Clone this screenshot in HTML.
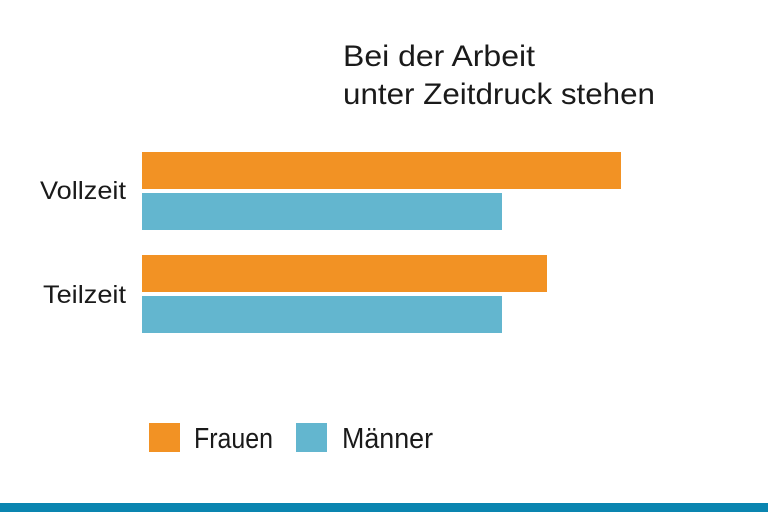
<!DOCTYPE html>
<html><head><meta charset="utf-8"><style>html,body{margin:0;padding:0;background:#fff;width:768px;height:512px;overflow:hidden}</style></head>
<body>
<svg width="768" height="512" viewBox="0 0 768 512" xmlns="http://www.w3.org/2000/svg" font-family="Liberation Sans, sans-serif" fill="#1a1a1a">
<text x="343" y="66" font-size="30" textLength="192" lengthAdjust="spacingAndGlyphs">Bei der Arbeit</text>
<text x="343" y="104" font-size="30" textLength="312" lengthAdjust="spacingAndGlyphs">unter Zeitdruck stehen</text>
<rect x="142" y="152" width="479" height="37" fill="#f29224"/>
<rect x="142" y="193" width="360" height="37" fill="#63b6cf"/>
<rect x="142" y="255" width="405" height="37" fill="#f29224"/>
<rect x="142" y="296" width="360" height="37" fill="#63b6cf"/>
<text x="126" y="199" font-size="25" text-anchor="end" textLength="86" lengthAdjust="spacingAndGlyphs">Vollzeit</text>
<text x="126" y="303" font-size="25" text-anchor="end" textLength="83" lengthAdjust="spacingAndGlyphs">Teilzeit</text>
<rect x="149" y="423" width="31" height="29" fill="#f29224"/>
<text x="194" y="448" font-size="29" textLength="79" lengthAdjust="spacingAndGlyphs">Frauen</text>
<rect x="296" y="423" width="31" height="29" fill="#63b6cf"/>
<text x="342" y="448" font-size="29" textLength="91" lengthAdjust="spacingAndGlyphs">Männer</text>
<rect x="0" y="503" width="768" height="9" fill="#0a85b0"/>
</svg>
</body></html>
